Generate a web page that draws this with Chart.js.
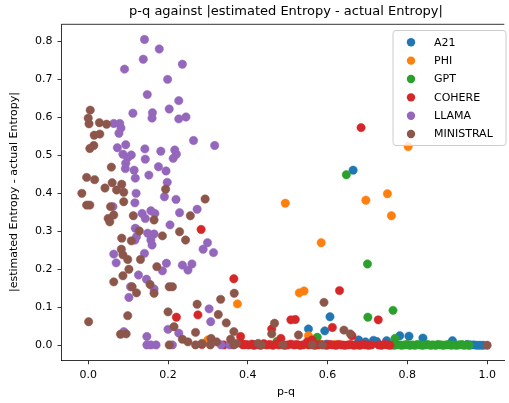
<!DOCTYPE html>
<html>
<head>
<meta charset="utf-8">
<script src="https://cdn.jsdelivr.net/npm/chart.js@4"></script>
<style>
  html, body { margin: 0; padding: 0; background: #fff; }
  canvas { display: block; }
</style>
</head>
<body>
<canvas id="myChart" width="509" height="403"></canvas>
<script>
// series names and colours (matplotlib tab10)
var seriesNames = ['A21', 'PHI', 'GPT', 'COHERE', 'LLAMA', 'MINISTRAL'];
var seriesColors = ['#1f77b4', '#ff7f0e', '#2ca02c', '#d62728', '#9467bd', '#8c564b'];

var xTicks = [0.0, 0.2, 0.4, 0.6, 0.8, 1.0];
var yTicks = [0.0, 0.1, 0.2, 0.3, 0.4, 0.5, 0.6, 0.7, 0.8];

// [p-q, |estimated - actual|]
var a21 = [
  [0.664,0.461],[0.606,0.075],[0.593,0.038],[0.552,0.043],[0.415,0.000],[0.413,0.002],
  [0.678,0.014],[0.695,0.009],[0.715,0.013],[0.723,0.010],[0.748,0.012],[0.781,0.025],
  [0.804,0.024],[0.839,0.019],[0.913,0.012],[0.950,0.002],[0.958,0.001],[0.966,0.001],
  [0.974,0.000],[0.982,0.000],[0.990,0.000],[0.598,0.003]
];

var phi = [
  [0.802,0.523],[0.750,0.399],[0.696,0.382],[0.494,0.374],[0.760,0.341],[0.584,0.270],
  [0.541,0.143],[0.529,0.138],[0.374,0.109],[0.552,0.025],[0.300,0.014],[0.440,0.003],
  [0.620,0.002]
];

var gpt = [
  [0.647,0.449],[0.700,0.214],[0.764,0.092],[0.701,0.074],[0.769,0.018],[0.574,0.021],
  [0.473,0.010],
  [0.760,0.001],[0.767,0.000],[0.773,0.002],[0.780,0.001],[0.786,0.000],[0.793,0.001],
  [0.799,0.002],[0.806,0.000],[0.812,0.001],[0.819,0.000],[0.825,0.002],[0.832,0.001],
  [0.838,0.000],[0.845,0.001],[0.851,0.002],[0.858,0.000],[0.864,0.001],[0.871,0.000],
  [0.877,0.002],[0.884,0.001],[0.890,0.000],[0.897,0.001],[0.903,0.002],[0.910,0.000],
  [0.916,0.001],[0.923,0.000],[0.929,0.001],[0.936,0.002],[0.942,0.000],[0.949,0.001],
  [0.955,0.000]
];

var cohere = [
  [0.684,0.573],[0.283,0.305],[0.365,0.175],[0.630,0.144],[0.275,0.080],[0.221,0.074],
  [0.727,0.067],[0.508,0.067],[0.519,0.068],[0.612,0.047],[0.460,0.043],[0.382,0.023],
  [0.661,0.025],[0.561,0.014],[0.549,0.009],[0.483,0.018],[0.388,0.001],[0.340,0.001],
  [0.285,0.002],[0.384,0.005],
  [0.395,0.002],[0.402,0.001],[0.410,0.003],[0.418,0.001],[0.425,0.002],[0.432,0.000],
  [0.440,0.004],[0.447,0.001],[0.455,0.002],[0.463,0.000],[0.470,0.003],[0.478,0.001],
  [0.486,0.002],[0.493,0.000],[0.500,0.001],[0.508,0.003],[0.516,0.001],[0.523,0.002],
  [0.531,0.000],[0.538,0.001],[0.546,0.003],[0.553,0.001],[0.561,0.002],[0.568,0.000],
  [0.576,0.001],[0.583,0.002],[0.591,0.001],[0.598,0.000],[0.606,0.002],[0.613,0.001],
  [0.621,0.000],[0.628,0.002],[0.636,0.001],[0.643,0.000],[0.651,0.001],[0.658,0.002],
  [0.666,0.000],[0.673,0.001],[0.681,0.000],[0.688,0.002],[0.696,0.001],[0.703,0.000],
  [0.710,0.001],[0.728,0.001],[0.735,0.000],[0.742,0.002],[0.750,0.001],[0.756,0.000]
];

var llama = [
  [0.141,0.805],[0.178,0.780],[0.138,0.753],[0.236,0.740],[0.091,0.727],[0.199,0.700],
  [0.148,0.660],[0.227,0.644],[0.112,0.611],[0.161,0.612],[0.160,0.598],[0.203,0.622],
  [0.227,0.596],[0.245,0.601],[0.064,0.584],[0.079,0.584],[0.082,0.572],[0.077,0.558],
  [0.264,0.539],[0.317,0.526],[0.073,0.520],[0.094,0.528],[0.087,0.503],[0.108,0.501],
  [0.099,0.494],[0.142,0.517],[0.143,0.490],[0.182,0.511],[0.217,0.514],[0.221,0.503],
  [0.213,0.492],[0.094,0.479],[0.093,0.465],[0.115,0.461],[0.118,0.440],[0.176,0.470],
  [0.195,0.459],[0.152,0.448],[0.198,0.429],[0.120,0.400],[0.191,0.391],[0.220,0.384],
  [0.117,0.375],[0.062,0.365],[0.135,0.347],[0.143,0.334],[0.157,0.354],[0.167,0.347],
  [0.229,0.349],[0.273,0.358],[0.205,0.317],[0.118,0.308],[0.121,0.286],[0.117,0.277],
  [0.149,0.295],[0.165,0.293],[0.157,0.277],[0.160,0.264],[0.299,0.270],[0.288,0.253],
  [0.314,0.244],[0.064,0.240],[0.070,0.217],[0.141,0.242],[0.196,0.216],[0.186,0.196],
  [0.236,0.211],[0.250,0.198],[0.260,0.214],[0.126,0.185],[0.146,0.174],[0.106,0.154],
  [0.165,0.148],[0.102,0.126],[0.303,0.096],[0.307,0.062],[0.200,0.042],[0.227,0.032],
  [0.089,0.036],[0.147,0.023],[0.147,0.001],[0.157,0.001],[0.170,0.001],[0.211,0.001],
  [0.333,0.001],[0.355,0.001]
];

var ministral = [
  [0.005,0.619],[0.000,0.598],[0.002,0.583],[0.028,0.586],[0.046,0.582],[0.015,0.553],
  [0.029,0.556],[0.014,0.526],[0.004,0.518],[0.058,0.469],[-0.004,0.442],[0.016,0.436],
  [0.060,0.428],[0.084,0.424],[0.042,0.414],[0.071,0.409],[0.089,0.403],[0.194,0.411],
  [-0.016,0.400],[0.293,0.385],[-0.004,0.369],[0.004,0.369],[0.056,0.365],[0.089,0.378],
  [0.050,0.334],[0.054,0.325],[0.064,0.343],[0.113,0.341],[0.165,0.330],[0.256,0.341],
  [0.128,0.301],[0.186,0.288],[0.229,0.299],[0.244,0.277],[0.084,0.282],[0.108,0.275],
  [0.083,0.253],[0.087,0.238],[0.099,0.226],[0.131,0.226],[0.172,0.207],[0.102,0.200],
  [0.087,0.183],[0.064,0.167],[0.110,0.154],[0.121,0.138],[0.155,0.160],[0.165,0.137],
  [0.203,0.154],[0.211,0.154],[0.366,0.137],[0.273,0.108],[0.332,0.121],[0.200,0.088],
  [0.099,0.078],[0.326,0.081],[0.001,0.062],[0.215,0.049],[0.346,0.059],[0.269,0.034],
  [0.081,0.029],[0.095,0.030],[0.365,0.036],[0.236,0.016],[0.250,0.009],[0.203,0.001],
  [0.269,0.001],[0.285,0.005],[0.308,0.018],[0.322,0.009],[0.306,0.001],[0.357,0.016],
  [0.372,0.005],[0.365,0.001],[0.591,0.113],[0.467,0.058],[0.460,0.030],[0.527,0.027],
  [0.641,0.040],[0.657,0.030],[0.426,0.005],[0.434,0.001],[0.488,0.001],[0.562,0.001],
  [0.587,0.001],[1.000,0.000]
];

var seriesData = [a21, phi, gpt, cohere, llama, ministral];

var FONT = "'DejaVu Sans', sans-serif";

// frame top line, titles and matplotlib-like legend
var decor = {
  id: 'decor',
  afterDraw: function (chart) {
    var ctx = chart.ctx;
    var area = chart.chartArea;
    ctx.save();
    ctx.strokeStyle = '#000';
    ctx.lineWidth = 0.8;
    ctx.beginPath();
    ctx.moveTo(area.left, area.top);
    ctx.lineTo(area.right, area.top);
    ctx.stroke();

    ctx.fillStyle = '#000';
    ctx.textAlign = 'center';
    ctx.textBaseline = 'middle';
    ctx.font = '13px ' + FONT;
    ctx.fillText('p-q against |estimated Entropy - actual Entropy|', 286, 12);
    ctx.font = '11px ' + FONT;
    ctx.fillText('p-q', 286, 392);
    ctx.save();
    ctx.translate(14, 192);
    ctx.rotate(-Math.PI / 2);
    ctx.fillText('|estimated Entropy - actual Entropy|', 0, 0);
    ctx.restore();

    // legend
    var lx = 393, ly = 30.5, lw = 113, lh = 115, r = 3;
    ctx.beginPath();
    ctx.moveTo(lx + r, ly);
    ctx.arcTo(lx + lw, ly, lx + lw, ly + lh, r);
    ctx.arcTo(lx + lw, ly + lh, lx, ly + lh, r);
    ctx.arcTo(lx, ly + lh, lx, ly, r);
    ctx.arcTo(lx, ly, lx + lw, ly, r);
    ctx.closePath();
    ctx.fillStyle = 'rgba(255,255,255,0.8)';
    ctx.fill();
    ctx.strokeStyle = '#cccccc';
    ctx.lineWidth = 1;
    ctx.stroke();

    ctx.textAlign = 'left';
    ctx.font = '11px ' + FONT;
    for (var i = 0; i < seriesNames.length; i++) {
      var y = 42.3 + i * 18.35;
      ctx.beginPath();
      ctx.arc(411, y, 4.2, 0, Math.PI * 2);
      ctx.fillStyle = seriesColors[i];
      ctx.fill();
      ctx.fillStyle = '#000';
      ctx.fillText(seriesNames[i], 434, y + 0.5);
    }
    ctx.restore();
  }
};

var datasets = seriesNames.map(function (name, i) {
  return {
    label: name,
    data: seriesData[i].map(function (p) { return { x: p[0], y: p[1] }; }),
    backgroundColor: seriesColors[i],
    borderColor: seriesColors[i],
    borderWidth: 0.5,
    pointRadius: 4.2,
    pointHoverRadius: 4.2,
    order: seriesNames.length - i
  };
});

var myChart = new Chart(document.getElementById('myChart'), {
  type: 'scatter',
  data: { datasets: datasets },
  options: {
    responsive: false,
    animation: false,
    layout: { padding: { top: 24.3, left: 0, right: 0, bottom: 0 } },
    plugins: {
      legend: { display: false },
      title: { display: false },
      tooltip: { enabled: false }
    },
    scales: {
      x: {
        type: 'linear',
        min: -0.067,
        max: 1.043,
        afterFit: function (scale) { scale.height = 42.7; },
        afterBuildTicks: function (scale) {
          scale.ticks = xTicks.map(function (v) { return { value: v }; });
        },
        ticks: {
          color: '#000',
          padding: 4,
          font: { family: FONT, size: 11 },
          callback: function (v) { return Number(v).toFixed(1); }
        },
        grid: { display: true, drawOnChartArea: false, drawTicks: true, tickLength: 4, color: '#000', tickWidth: 0.8 },
        border: { display: true, color: '#000', width: 0.8 }
      },
      y: {
        type: 'linear',
        min: -0.0395,
        max: 0.845,
        afterFit: function (scale) { scale.width = 61.5; },
        afterBuildTicks: function (scale) {
          scale.ticks = yTicks.map(function (v) { return { value: v }; });
        },
        ticks: {
          color: '#000',
          padding: 5,
          font: { family: FONT, size: 11 },
          callback: function (v) { return Number(v).toFixed(1); }
        },
        grid: { display: true, drawOnChartArea: false, drawTicks: true, tickLength: 4, color: '#000', tickWidth: 0.8 },
        border: { display: true, color: '#000', width: 0.8 }
      }
    }
  },
  plugins: [decor]
});
</script>
</body>
</html>
